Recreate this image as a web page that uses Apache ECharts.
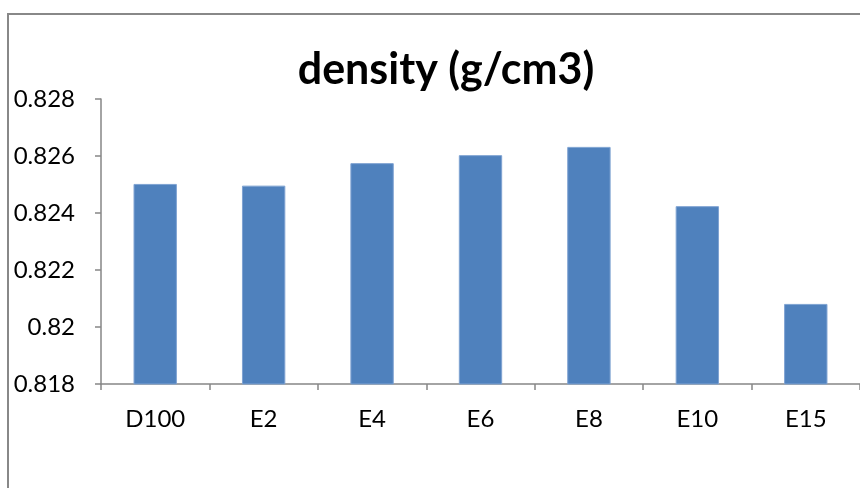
<!DOCTYPE html>
<html><head><meta charset="utf-8">
<script src="https://cdn.jsdelivr.net/npm/echarts@6/dist/echarts.min.js"></script>
<style>html,body{margin:0;padding:0;background:#fff}#c{width:860px;height:488px}</style>
</head><body><div id="c"></div>
<script>
const categories = ['D100','E2','E4','E6','E8','E10','E15'];
const density = [0.82502, 0.82496, 0.82575, 0.82603, 0.82632, 0.82424, 0.82081];
const yMin = 0.818, yMax = 0.828, yStep = 0.002;

const chart = echarts.init(document.getElementById('c'));
const font = 'Lato';
chart.setOption({
  animation: false,
  backgroundColor: '#fff',
  title: {
    text: 'density (g/cm3)', left: 441, top: 44, textAlign: 'center',
    textStyle: {fontFamily: font, fontWeight: 'bold', fontSize: 43, color: '#000'}
  },
  graphic: [{
    type: 'rect', shape: {x: 8, y: 14, width: 900, height: 500},
    style: {fill: 'none', stroke: '#888', lineWidth: 2}, silent: true, z: -1
  }],
  grid: {left: 101, right: 0, top: 99, bottom: 104},
  xAxis: {
    type: 'category', data: categories,
    axisLine: {lineStyle: {color: '#868686', width: 1.5}},
    axisTick: {show: true, length: 6, lineStyle: {color: '#868686', width: 1.5}},
    axisLabel: {fontFamily: font, fontSize: 24, color: '#000', margin: 23}
  },
  yAxis: {
    type: 'value', min: yMin, max: yMax, interval: yStep,
    axisLine: {show: true, lineStyle: {color: '#868686', width: 1.5}},
    axisTick: {show: true, length: 6, lineStyle: {color: '#868686', width: 1.5}},
    splitLine: {show: false},
    axisLabel: {fontFamily: font, fontSize: 24, color: '#000', margin: 26,
      formatter: v => String(+v.toFixed(3))}
  },
  series: [{
    type: 'bar', data: density, barWidth: '40%',
    itemStyle: {color: '#4F81BD', borderColor: '#7FA3D2', borderWidth: 1}
  }]
});
</script></body></html>
